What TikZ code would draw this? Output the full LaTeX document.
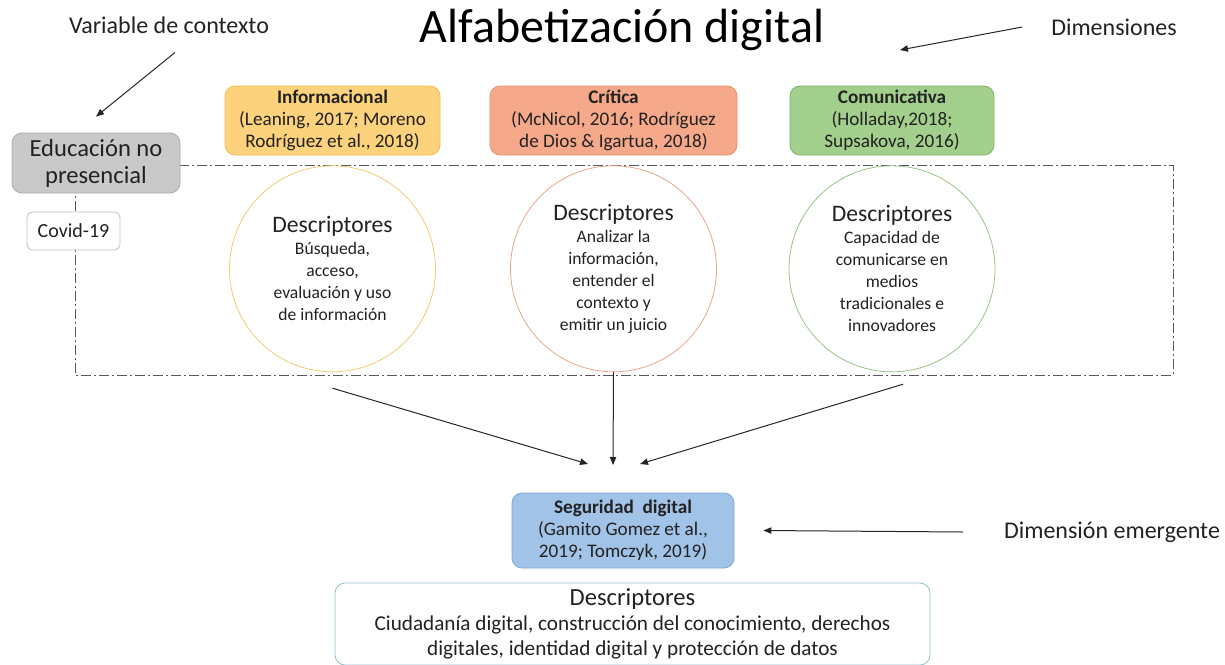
\documentclass[tikz,border=0pt]{standalone}
\usepackage{fontspec}
\setmainfont{Carlito}
\usepackage{xcolor}
\usepackage{tikz}
\usetikzlibrary{shapes.geometric, arrows.meta, positioning, calc}

\definecolor{infofill}{HTML}{FCD27C}
\definecolor{infoline}{HTML}{EEC04E}
\definecolor{critfill}{HTML}{F5A98A}
\definecolor{critline}{HTML}{E5906E}
\definecolor{comufill}{HTML}{A3CF8C}
\definecolor{comuline}{HTML}{80B468}
\definecolor{segfill}{HTML}{A2C3E8}
\definecolor{segline}{HTML}{7EA6D4}
\definecolor{edufill}{HTML}{C9C9C9}
\definecolor{txt}{HTML}{222222}

\begin{document}
\begin{tikzpicture}[
    x=0.5pt, y=-0.5pt,
    every node/.style={text=txt},
    box/.style={rectangle, draw, rounded corners=5pt, align=center, inner sep=1pt, font=\fontsize{9.6}{11}\selectfont},
    dimbox/.style={box, minimum height=34.5pt},
    circ/.style={circle, draw, fill=white, minimum size=103pt, align=center, inner sep=0pt, font=\fontsize{8.8}{11}\selectfont},
    label/.style={font=\fontsize{12}{14}\selectfont},
    frame/.style={draw=black!65, dash pattern=on 5pt off 1.5pt on 1pt off 1.5pt, line width=0.5pt},
    arrow/.style={-{Triangle[length=4pt, width=3.2pt]}, line width=0.5pt, black!85},
]
\useasboundingbox (0,0) rectangle (1225,664);

% Frame of the descriptors
\draw[frame] (75,165) rectangle (1173,375);

% Title and labels
\node[font=\fontsize{24}{28}\selectfont, text=black] (title) at (622,30) {Alfabetización digital};
\node[label] (var) at (169,25) {Variable de contexto};
\node[label] (dim) at (1114,27) {Dimensiones};
\node[label] (emer) at (1112,532) {Dimensión emergente};

% Context
\node[box, fill=edufill, draw=edufill!85!black, minimum width=84pt, minimum height=30pt, font=\fontsize{12.3}{13.5}\selectfont] (edu) at (96,163) {Educación no\\presencial};
\node[box, fill=white, draw=black!25, rounded corners=3pt, minimum width=46.5pt, minimum height=19pt, font=\fontsize{10}{12}\selectfont] (covid) at (73.5,231) {Covid-19};

% Dimensions
\node[dimbox, fill=infofill, draw=infoline, minimum width=107.5pt] (info) at (332.5,120.5) {\textbf{Informacional}\\(Leaning, 2017; Moreno\\Rodríguez et al., 2018)};
\node[dimbox, fill=critfill, draw=critline, minimum width=123.5pt] (crit) at (613.5,120.5) {\textbf{Crítica}\\(McNicol, 2016; Rodríguez\\de Dios \& Igartua, 2018)};
\node[dimbox, fill=comufill, draw=comuline, minimum width=102pt] (comu) at (892,120.5) {\textbf{Comunicativa}\\(Holladay,2018;\\Supsakova, 2016)};

% Descriptor circles
\node[circ, draw=infoline!80, below=5pt of info] (infoc) {{\fontsize{11.8}{14}\selectfont Descriptores}\\Búsqueda,\\acceso,\\evaluación y uso\\de información};
\node[circ, draw=critline!80, below=5pt of crit] (critc) {{\fontsize{11.8}{14}\selectfont Descriptores}\\Analizar la\\información,\\entender el\\contexto y\\emitir un juicio};
\node[circ, draw=comuline!80, below=5pt of comu] (comuc) {{\fontsize{11.8}{14}\selectfont Descriptores}\\Capacidad de\\comunicarse en\\medios\\tradicionales e\\innovadores};

% Emerging dimension
\node[dimbox, fill=segfill, draw=segline, minimum width=111pt, minimum height=37.5pt] (seg) at (623,530.5) {\textbf{Seguridad\ \ digital}\\(Gamito Gomez et al.,\\2019; Tomczyk, 2019)};
\node[box, draw=segline!60!teal!60, fill=white, minimum width=297.5pt, minimum height=41pt, font=\fontsize{10.6}{12.6}\selectfont] (segd) at (632.5,624) {{\fontsize{12.3}{14}\selectfont Descriptores}\\Ciudadanía digital, construcción del conocimiento, derechos\\digitales, identidad digital y protección de datos};

% Arrows
\coordinate (inL) at (588,464);
\coordinate (inC) at (613,465);
\coordinate (inR) at (640,464);
\coordinate (dimtip) at (900,50);
\draw[arrow] ([yshift=-8pt]infoc.south) -- (inL);
\draw[arrow] (critc.south) -- (inC);
\draw[arrow] ([shift={(5.5pt,-6pt)}]comuc.south) -- (inR);
\draw[arrow] ([xshift=3pt,yshift=-6pt]var.south) -- ([yshift=8pt]edu.north);
\draw[arrow] ([xshift=-11pt]dim.west) -- (dimtip);
\draw[arrow] ([xshift=-17pt]emer.west) -- ([xshift=14.5pt]seg.east);

\end{tikzpicture}
\end{document}
